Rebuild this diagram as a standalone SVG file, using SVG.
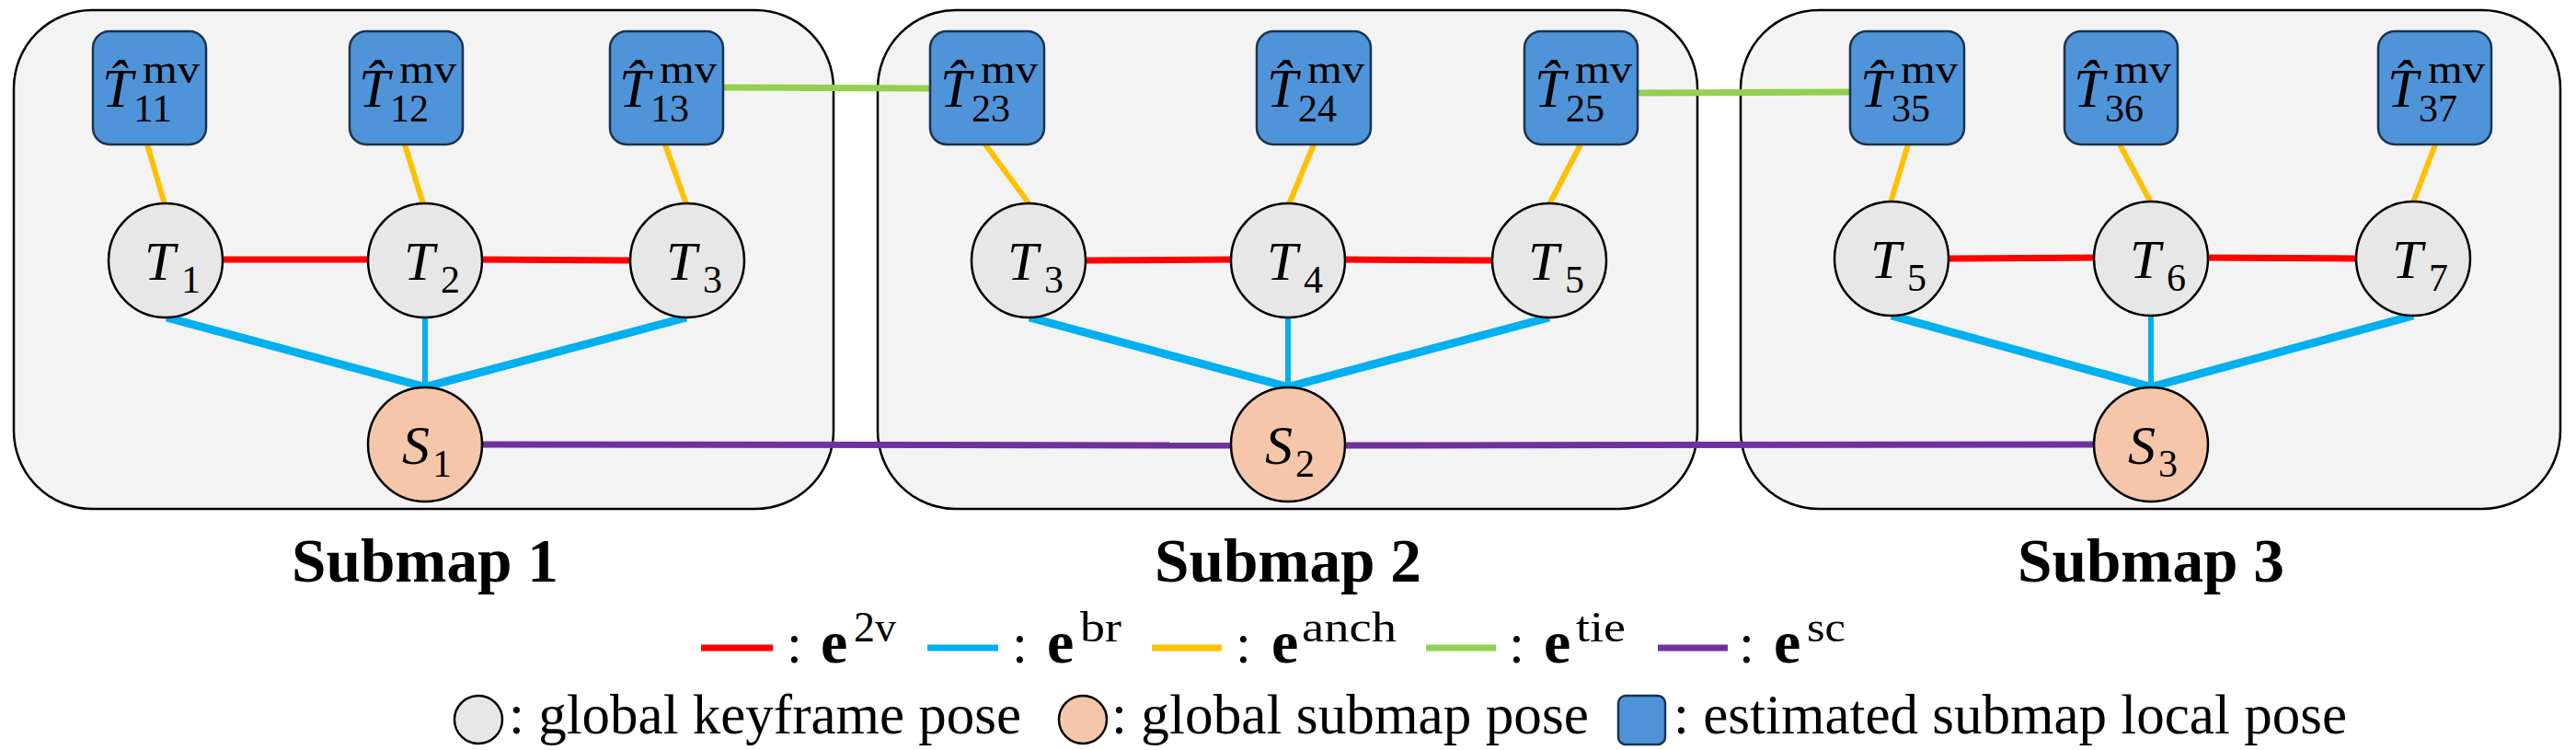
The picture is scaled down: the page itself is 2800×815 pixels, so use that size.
<svg xmlns="http://www.w3.org/2000/svg" width="2800" height="815" viewBox="0 0 2800 815">
<style>
.sub{fill:#F3F3F3;stroke:#000;stroke-width:2.5}
.kf{fill:#E7E7E7;stroke:#000;stroke-width:2.5}
.sp{fill:#F5C6AA;stroke:#000;stroke-width:2.5}
.lp{fill:#4F94D8;stroke:#1B3350;stroke-width:2.5}
.it{font-family:"Liberation Serif","Times New Roman",serif;font-style:italic;font-size:60px}
.up{font-family:"Liberation Serif","Times New Roman",serif;font-size:44px}
.sb{font-family:"Liberation Serif","Times New Roman",serif;font-size:42px}
.title{font-family:"Liberation Serif","Times New Roman",serif;font-weight:bold;font-size:68px}
.lg{font-family:"Liberation Serif","Times New Roman",serif;font-size:61px}
.eb{font-family:"Liberation Serif","Times New Roman",serif;font-weight:bold;font-size:66px}
.es{font-family:"Liberation Serif","Times New Roman",serif;font-size:46px}
.r{stroke:#FF0000;stroke-width:7}
.b{stroke:#00B0F0;stroke-width:9}
.bv{stroke:#00B0F0;stroke-width:6}
.y{stroke:#FFC000;stroke-width:6}
.g{stroke:#92D050;stroke-width:7}
.p{stroke:#7030A0;stroke-width:7}
</style>
<g id="submaps">
<rect id="submap1" class="sub" x="15" y="11" width="891" height="542" rx="85" ry="85"/>
<rect id="submap2" class="sub" x="954" y="11" width="891" height="542" rx="85" ry="85"/>
<rect id="submap3" class="sub" x="1892" y="11" width="891" height="542" rx="85" ry="85"/>
</g>
<g id="connectors">
<line class="y" x1="160" y1="157" x2="179" y2="222"/>
<line class="y" x1="440" y1="157" x2="460" y2="222"/>
<line class="y" x1="723" y1="157" x2="746" y2="222"/>
<line class="y" x1="1071" y1="157" x2="1119" y2="222"/>
<line class="y" x1="1428" y1="157" x2="1401" y2="222"/>
<line class="y" x1="1718" y1="157" x2="1684" y2="222"/>
<line class="y" x1="2074" y1="157" x2="2055" y2="220"/>
<line class="y" x1="2304" y1="157" x2="2338" y2="220"/>
<line class="y" x1="2647" y1="157" x2="2623" y2="220"/>
<line class="r" x1="240" y1="282" x2="402" y2="282"/>
<line class="r" x1="522" y1="282" x2="687" y2="283"/>
<line class="r" x1="1178" y1="283" x2="1340" y2="282"/>
<line class="r" x1="1460" y1="282" x2="1624" y2="283"/>
<line class="r" x1="2116" y1="281" x2="2278" y2="280"/>
<line class="r" x1="2398" y1="280" x2="2563" y2="281"/>
<line class="b" x1="181" y1="345" x2="460" y2="420"/>
<line class="bv" x1="462" y1="345" x2="462" y2="420"/>
<line class="b" x1="746" y1="345" x2="464" y2="420"/>
<line class="b" x1="1119" y1="345" x2="1398" y2="420"/>
<line class="bv" x1="1400" y1="345" x2="1400" y2="420"/>
<line class="b" x1="1684" y1="345" x2="1402" y2="420"/>
<line class="b" x1="2056" y1="343" x2="2336" y2="420"/>
<line class="bv" x1="2338" y1="343" x2="2338" y2="420"/>
<line class="b" x1="2623" y1="343" x2="2340" y2="420"/>
<line class="g" x1="786" y1="95" x2="1011" y2="96"/>
<line class="g" x1="1780" y1="101" x2="2011" y2="100"/>
<line class="p" x1="524" y1="483" x2="1338" y2="484"/>
<line class="p" x1="1462" y1="484" x2="2276" y2="483"/>
</g>
<g id="L11"><rect class="lp" x="101" y="34" width="123" height="123" rx="18"/><text class="it" x="111" y="116">T̂</text><text class="up" x="155" y="90" textLength="62" lengthAdjust="spacingAndGlyphs">mv</text><text class="sb" x="145" y="132" textLength="42" lengthAdjust="spacingAndGlyphs">11</text></g>
<g id="L12"><rect class="lp" x="380" y="34" width="123" height="123" rx="18"/><text class="it" x="390" y="116">T̂</text><text class="up" x="434" y="90" textLength="62" lengthAdjust="spacingAndGlyphs">mv</text><text class="sb" x="424" y="132" textLength="42" lengthAdjust="spacingAndGlyphs">12</text></g>
<g id="L13"><rect class="lp" x="663" y="34" width="123" height="123" rx="18"/><text class="it" x="673" y="116">T̂</text><text class="up" x="717" y="90" textLength="62" lengthAdjust="spacingAndGlyphs">mv</text><text class="sb" x="707" y="132" textLength="42" lengthAdjust="spacingAndGlyphs">13</text></g>
<g id="L23"><rect class="lp" x="1011" y="34" width="124" height="123" rx="18"/><text class="it" x="1022" y="116">T̂</text><text class="up" x="1066" y="90" textLength="62" lengthAdjust="spacingAndGlyphs">mv</text><text class="sb" x="1056" y="132" textLength="42" lengthAdjust="spacingAndGlyphs">23</text></g>
<g id="L24"><rect class="lp" x="1366" y="34" width="124" height="123" rx="18"/><text class="it" x="1377" y="116">T̂</text><text class="up" x="1421" y="90" textLength="62" lengthAdjust="spacingAndGlyphs">mv</text><text class="sb" x="1411" y="132" textLength="42" lengthAdjust="spacingAndGlyphs">24</text></g>
<g id="L25"><rect class="lp" x="1657" y="34" width="123" height="123" rx="18"/><text class="it" x="1668" y="116">T̂</text><text class="up" x="1712" y="90" textLength="62" lengthAdjust="spacingAndGlyphs">mv</text><text class="sb" x="1702" y="132" textLength="42" lengthAdjust="spacingAndGlyphs">25</text></g>
<g id="L35"><rect class="lp" x="2011" y="34" width="124" height="123" rx="18"/><text class="it" x="2022" y="116">T̂</text><text class="up" x="2066" y="90" textLength="62" lengthAdjust="spacingAndGlyphs">mv</text><text class="sb" x="2056" y="132" textLength="42" lengthAdjust="spacingAndGlyphs">35</text></g>
<g id="L36"><rect class="lp" x="2244" y="34" width="123" height="123" rx="18"/><text class="it" x="2254" y="116">T̂</text><text class="up" x="2298" y="90" textLength="62" lengthAdjust="spacingAndGlyphs">mv</text><text class="sb" x="2288" y="132" textLength="42" lengthAdjust="spacingAndGlyphs">36</text></g>
<g id="L37"><rect class="lp" x="2585" y="34" width="123" height="123" rx="18"/><text class="it" x="2595" y="116">T̂</text><text class="up" x="2639" y="90" textLength="62" lengthAdjust="spacingAndGlyphs">mv</text><text class="sb" x="2629" y="132" textLength="42" lengthAdjust="spacingAndGlyphs">37</text></g>
<g id="T1a"><ellipse class="kf" cx="180" cy="283" rx="62" ry="62"/><text class="it" x="157" y="304">T</text><text class="sb" x="197" y="318">1</text></g>
<g id="T2a"><ellipse class="kf" cx="462" cy="283" rx="62" ry="62"/><text class="it" x="439" y="304">T</text><text class="sb" x="479" y="318">2</text></g>
<g id="T3a"><ellipse class="kf" cx="747" cy="283" rx="62" ry="62"/><text class="it" x="724" y="304">T</text><text class="sb" x="764" y="318">3</text></g>
<g id="T3b"><ellipse class="kf" cx="1118" cy="283" rx="62" ry="62"/><text class="it" x="1095" y="304">T</text><text class="sb" x="1135" y="318">3</text></g>
<g id="T4b"><ellipse class="kf" cx="1400" cy="283" rx="62" ry="62"/><text class="it" x="1377" y="304">T</text><text class="sb" x="1417" y="318">4</text></g>
<g id="T5b"><ellipse class="kf" cx="1684" cy="283" rx="62" ry="62"/><text class="it" x="1661" y="304">T</text><text class="sb" x="1701" y="318">5</text></g>
<g id="T5c"><ellipse class="kf" cx="2056" cy="281" rx="62" ry="62"/><text class="it" x="2033" y="302">T</text><text class="sb" x="2073" y="316">5</text></g>
<g id="T6c"><ellipse class="kf" cx="2338" cy="281" rx="62" ry="62"/><text class="it" x="2315" y="302">T</text><text class="sb" x="2355" y="316">6</text></g>
<g id="T7c"><ellipse class="kf" cx="2623" cy="281" rx="62" ry="62"/><text class="it" x="2600" y="302">T</text><text class="sb" x="2640" y="316">7</text></g>
<g id="S1"><ellipse class="sp" cx="462" cy="483" rx="62" ry="62"/><text class="it" x="437" y="504">S</text><text class="sb" x="470" y="518">1</text></g>
<g id="S2"><ellipse class="sp" cx="1400" cy="483" rx="62" ry="62"/><text class="it" x="1375" y="504">S</text><text class="sb" x="1408" y="518">2</text></g>
<g id="S3"><ellipse class="sp" cx="2338" cy="483" rx="62" ry="62"/><text class="it" x="2313" y="504">S</text><text class="sb" x="2346" y="518">3</text></g>
<g id="titles">
<text class="title" x="462" y="632" text-anchor="middle" textLength="290" lengthAdjust="spacingAndGlyphs">Submap 1</text>
<text class="title" x="1400" y="632" text-anchor="middle" textLength="290" lengthAdjust="spacingAndGlyphs">Submap 2</text>
<text class="title" x="2338" y="632" text-anchor="middle" textLength="290" lengthAdjust="spacingAndGlyphs">Submap 3</text>
</g>
<g id="legend">
<line class="r" x1="762" y1="704" x2="840" y2="704"/>
<text class="lg" x="855" y="720">:</text><text class="eb" x="892" y="720">e</text><text class="es" x="928" y="697" textLength="46" lengthAdjust="spacingAndGlyphs">2v</text>
<line class="bv" style="stroke-width:7" x1="1008" y1="704" x2="1085" y2="704"/>
<text class="lg" x="1100" y="720">:</text><text class="eb" x="1138" y="720">e</text><text class="es" x="1174" y="697" textLength="45" lengthAdjust="spacingAndGlyphs">br</text>
<line class="y" style="stroke-width:7" x1="1252" y1="704" x2="1328" y2="704"/>
<text class="lg" x="1343" y="720">:</text><text class="eb" x="1382" y="720">e</text><text class="es" x="1415" y="697" textLength="103" lengthAdjust="spacingAndGlyphs">anch</text>
<line class="g" x1="1550" y1="704" x2="1626" y2="704"/>
<text class="lg" x="1640" y="720">:</text><text class="eb" x="1678" y="720">e</text><text class="es" x="1713" y="697" textLength="54" lengthAdjust="spacingAndGlyphs">tie</text>
<line class="p" x1="1802" y1="704" x2="1878" y2="704"/>
<text class="lg" x="1890" y="720">:</text><text class="eb" x="1928" y="720">e</text><text class="es" x="1964" y="697" textLength="42" lengthAdjust="spacingAndGlyphs">sc</text>
<ellipse class="kf" cx="520" cy="782" rx="26" ry="26"/>
<text class="lg" x="553" y="797" textLength="557" lengthAdjust="spacingAndGlyphs">: global keyframe pose</text>
<ellipse class="sp" cx="1177" cy="782" rx="26" ry="26"/>
<text class="lg" x="1208" y="797" textLength="519" lengthAdjust="spacingAndGlyphs">: global submap pose</text>
<rect class="lp" x="1759" y="756" width="51" height="53" rx="8"/>
<text class="lg" x="1819" y="797" textLength="732" lengthAdjust="spacingAndGlyphs">: estimated submap local pose</text>
</g>
</svg>
